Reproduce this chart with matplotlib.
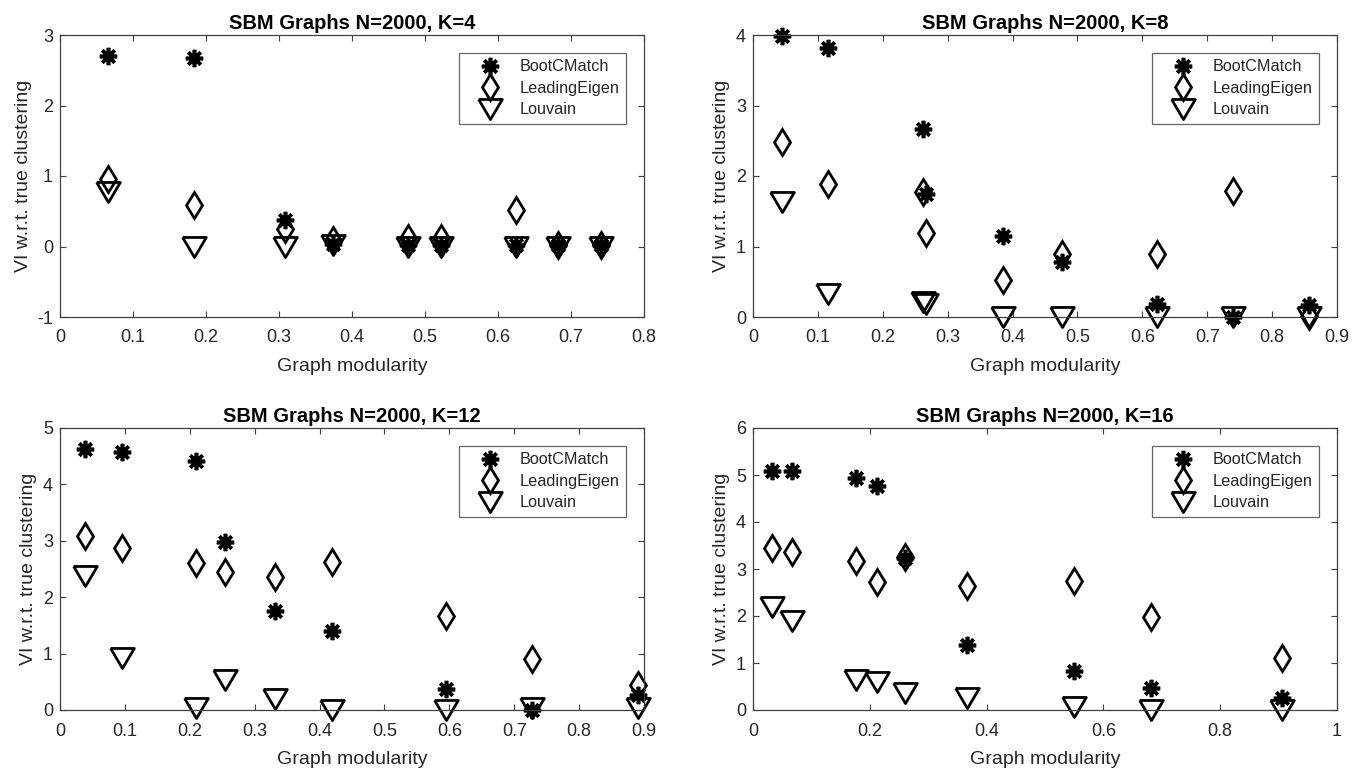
import numpy as np
import matplotlib
matplotlib.use("Agg")
import matplotlib.pyplot as plt
from matplotlib.ticker import FuncFormatter

plt.rcParams['font.family'] = ['Liberation Sans', 'DejaVu Sans']
plt.rcParams['axes.unicode_minus'] = False

methods = ['BootCMatch', 'LeadingEigen', 'Louvain']

# K=4
mod_k4 = [0.066, 0.184, 0.308, 0.374, 0.477, 0.522, 0.624, 0.682, 0.741]
boot_k4 = [2.70, 2.68, 0.37, 0.03, 0.02, 0.02, 0.02, 0.02, 0.02]
lead_k4 = [0.96, 0.59, 0.25, 0.09, 0.12, 0.12, 0.52, 0.02, 0.02]
louv_k4 = [0.77, 0.0, 0.0, 0.02, 0.0, 0.0, 0.0, 0.0, 0.0]

# K=8
mod_k8 = [0.045, 0.116, 0.262, 0.266, 0.385, 0.476, 0.623, 0.739, 0.857]
boot_k8 = [3.99, 3.82, 2.66, 1.75, 1.15, 0.78, 0.19, 0.0, 0.17]
lead_k8 = [2.48, 1.89, 1.77, 1.19, 0.52, 0.89, 0.90, 1.79, 0.02]
louv_k8 = [1.63, 0.33, 0.21, 0.18, 0.0, 0.0, 0.0, 0.0, 0.0]

# K=12
mod_k12 = [0.038, 0.096, 0.210, 0.254, 0.332, 0.419, 0.595, 0.727, 0.890]
boot_k12 = [4.63, 4.57, 4.41, 2.98, 1.76, 1.40, 0.37, 0.0, 0.27]
lead_k12 = [3.08, 2.87, 2.60, 2.44, 2.35, 2.63, 1.67, 0.90, 0.44]
louv_k12 = [2.38, 0.92, 0.04, 0.53, 0.20, 0.0, 0.0, 0.03, 0.03]

# K=16
mod_k16 = [0.033, 0.067, 0.176, 0.213, 0.260, 0.366, 0.550, 0.682, 0.905]
boot_k16 = [5.08, 5.08, 4.93, 4.77, 3.23, 1.38, 0.83, 0.46, 0.25]
lead_k16 = [3.44, 3.37, 3.16, 2.72, 3.25, 2.63, 2.75, 1.97, 1.10]
louv_k16 = [2.20, 1.90, 0.64, 0.60, 0.36, 0.25, 0.07, 0.0, 0.0]

panels = [
    ("SBM Graphs N=2000, K=4", mod_k4, [boot_k4, lead_k4, louv_k4], (0, 0.8), np.arange(0, 0.81, 0.1), (-1, 3), range(-1, 4)),
    ("SBM Graphs N=2000, K=8", mod_k8, [boot_k8, lead_k8, louv_k8], (0, 0.9), np.arange(0, 0.91, 0.1), (0, 4), range(0, 5)),
    ("SBM Graphs N=2000, K=12", mod_k12, [boot_k12, lead_k12, louv_k12], (0, 0.9), np.arange(0, 0.91, 0.1), (0, 5), range(0, 6)),
    ("SBM Graphs N=2000, K=16", mod_k16, [boot_k16, lead_k16, louv_k16], (0, 1), np.arange(0, 1.01, 0.2), (0, 6), range(0, 7)),
]

W, H = 1365, 769
boxes = [(60, 35), (753, 35), (60, 428), (753, 428)]
aw, ah = 584, 282

# wide, short downward triangle like the MATLAB 'v'
tri = [(-1, 0.85), (1, 0.85), (0, -0.85), (-1, 0.85)]
markers = [dict(marker=(8, 2, 0), markersize=12.5, markeredgewidth=2.6),
           dict(marker='d', markersize=13, markeredgewidth=2.0),
           dict(marker=tri, markersize=17, markeredgewidth=2.0)]

fig = plt.figure(figsize=(W / 100, H / 100), dpi=100)
fmt = FuncFormatter(lambda v, p: '%g' % round(v, 3))
axc = '#404040'

for (title, x, ys, xl, xt, yl, yt), (px, py) in zip(panels, boxes):
    ax = fig.add_axes([px / W, 1 - (py + ah) / H, aw / W, ah / H])
    for y, name, m in zip(ys, methods, markers):
        ax.plot(x, y, linestyle='none', color='k', markerfacecolor='none',
                markeredgecolor='k', label=name, clip_on=False, **m)
    ax.set_xlim(*xl)
    ax.set_ylim(*yl)
    ax.set_xticks(xt)
    ax.set_yticks(list(yt))
    ax.xaxis.set_major_formatter(fmt)
    ax.yaxis.set_major_formatter(fmt)
    ax.tick_params(direction='in', top=True, right=True, length=4, width=0.8,
                   color=axc, labelsize=13, labelcolor='#262626')
    ax.tick_params(axis='x', pad=9)
    ax.tick_params(axis='y', pad=5)
    for s in ax.spines.values():
        s.set_color(axc)
        s.set_linewidth(0.9)
    ax.set_title(title, fontsize=14.5, fontweight='bold', pad=4)
    ax.set_xlabel('Graph modularity', fontsize=14, color='#262626', labelpad=8)
    ax.set_ylabel('VI w.r.t. true clustering', fontsize=14, color='#262626', labelpad=4)
    leg = ax.legend(loc='upper right', numpoints=1, fontsize=11.7, frameon=True,
                    fancybox=False, edgecolor=axc, borderpad=0.4, labelspacing=0.4,
                    handlelength=3.0, handletextpad=0.35, borderaxespad=1.1)
    leg.get_frame().set_linewidth(0.9)
    for t in leg.get_texts():
        t.set_color('#262626')

fig.savefig('out.png', dpi=100)
